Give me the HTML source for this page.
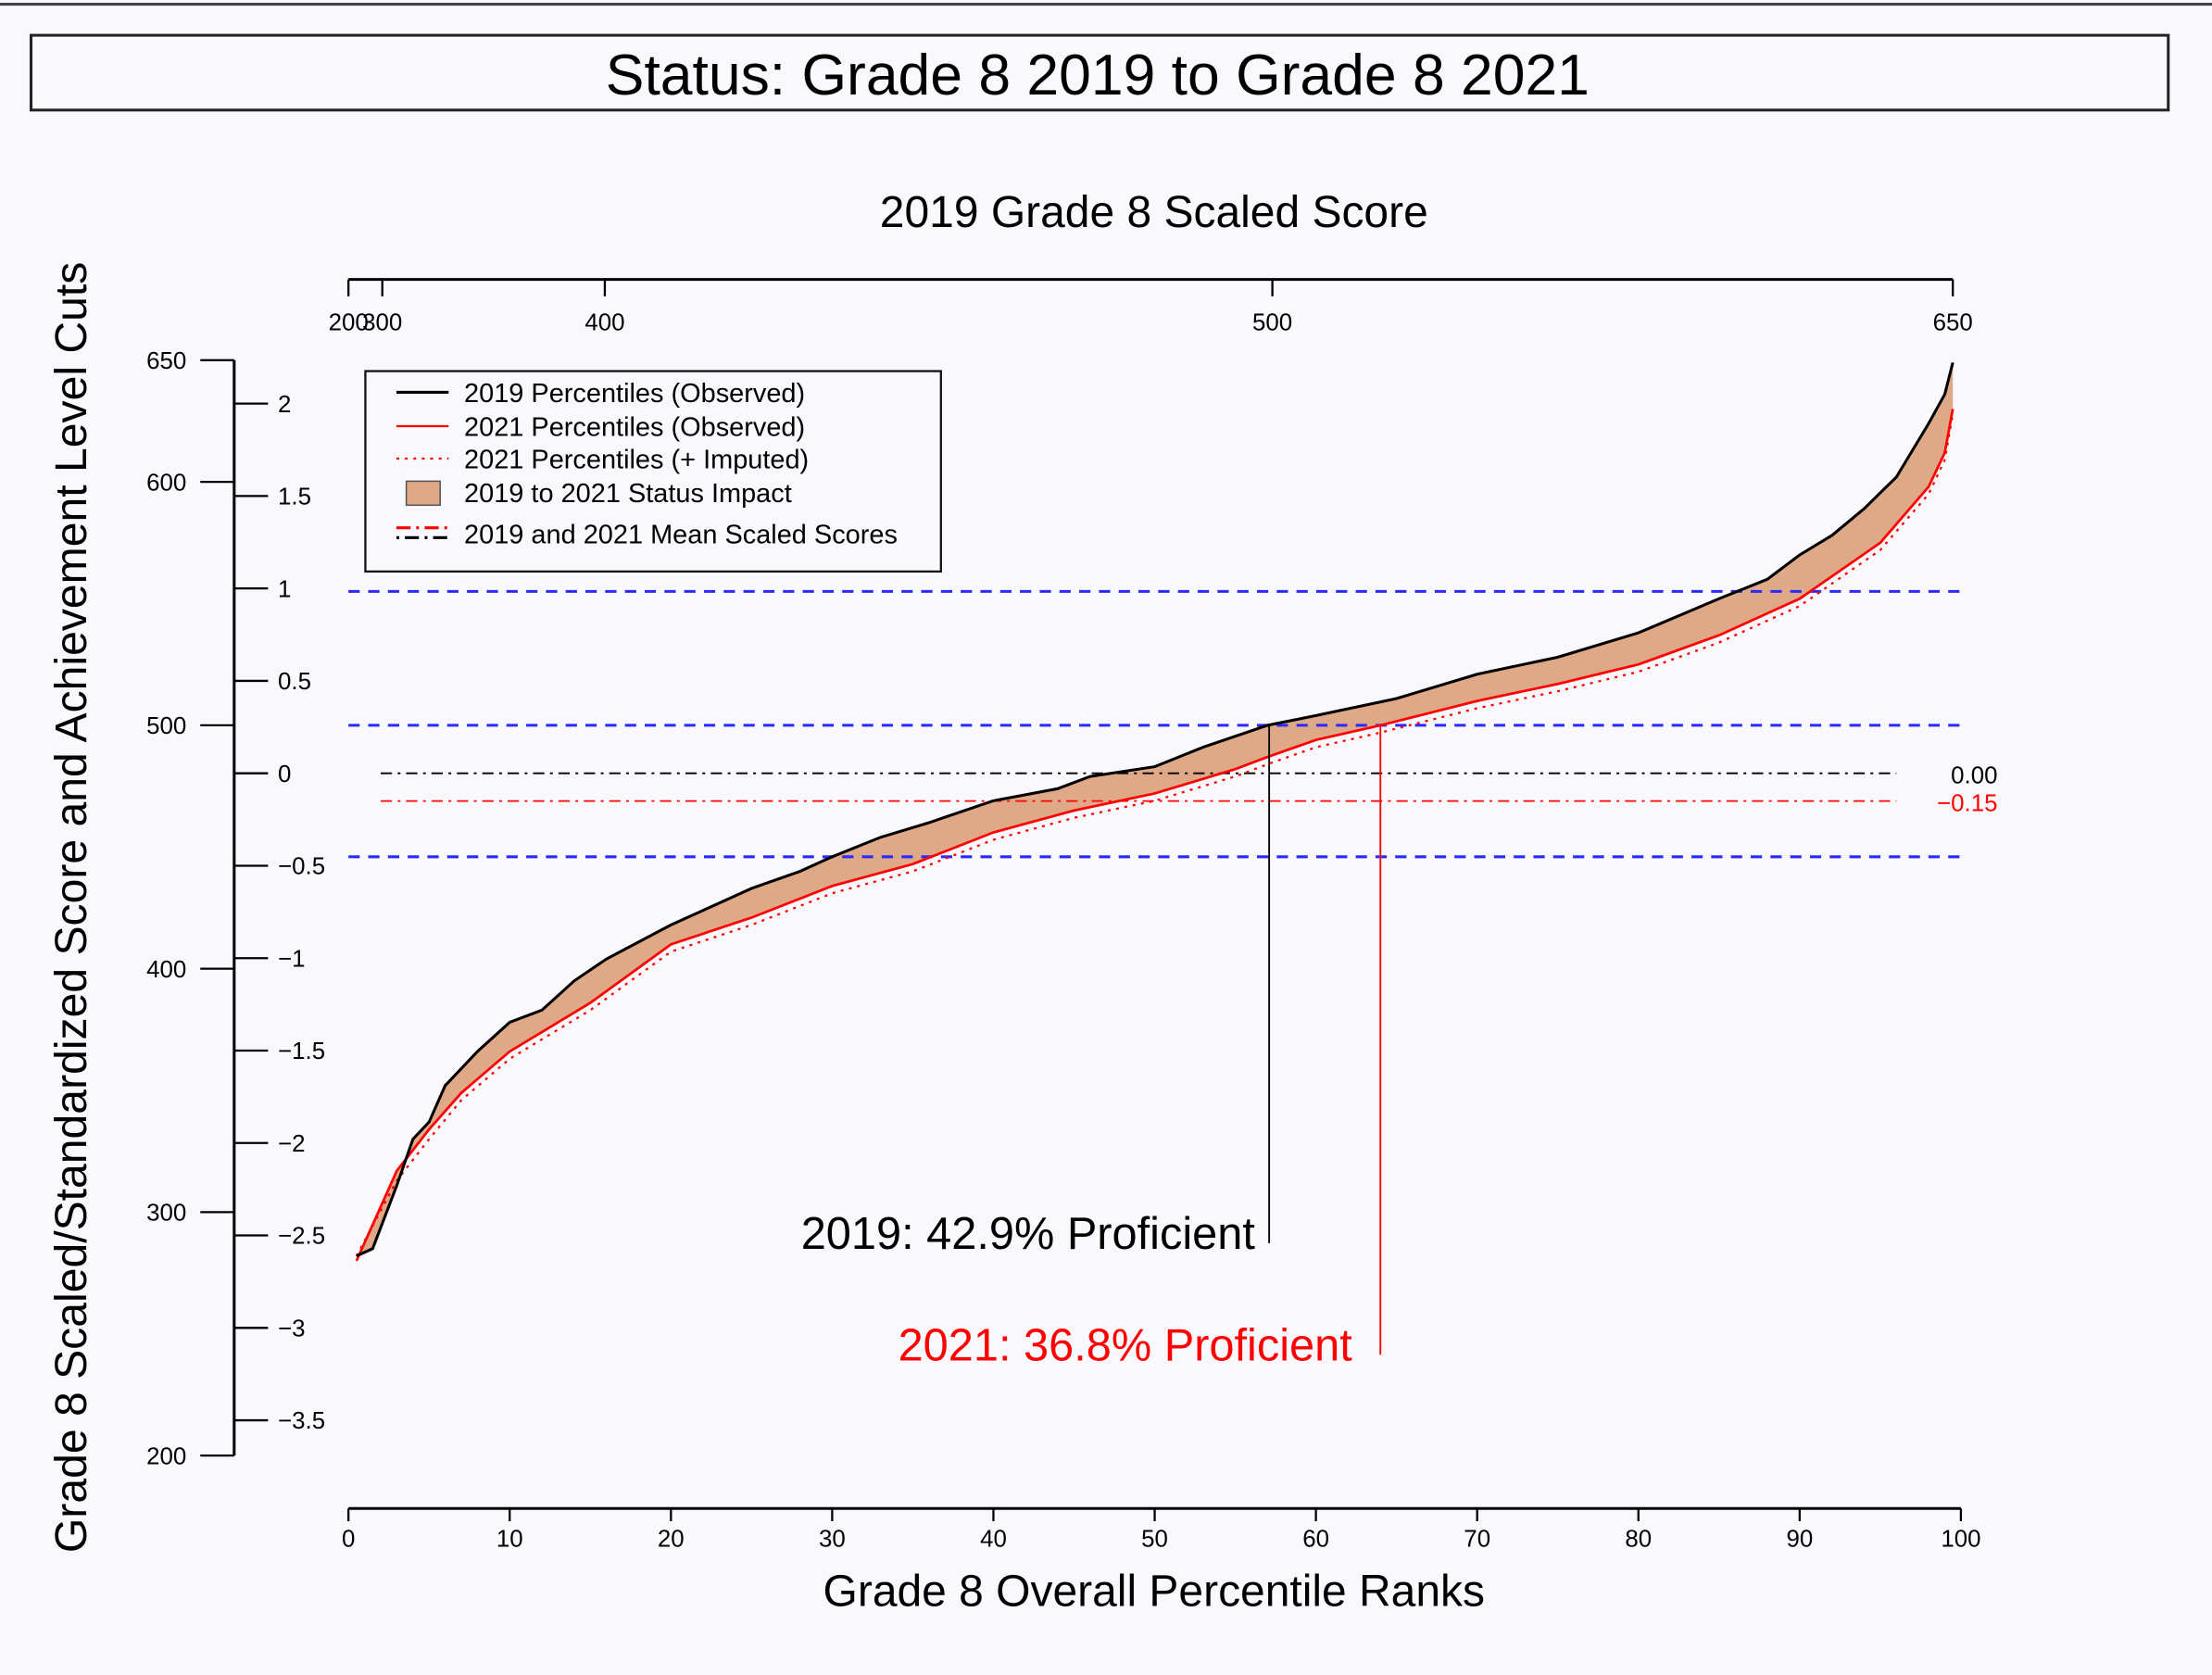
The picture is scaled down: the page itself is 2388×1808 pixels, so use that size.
<!DOCTYPE html>
<html><head><meta charset="utf-8"><style>
html,body{margin:0;padding:0;background:#f9f9fd;}
svg{display:block;font-family:"Liberation Sans",Arial,sans-serif;}
</style></head><body>
<svg id="chart" width="2388" height="1808" viewBox="0 0 1568 1187" preserveAspectRatio="none" xmlns="http://www.w3.org/2000/svg">
<rect x="0" y="0" width="1568" height="1187" fill="#f9f9fd"/>
<line x1="0" y1="3" x2="1568" y2="3" stroke="#444" stroke-width="2"/>
<rect x="22" y="25" width="1515" height="53" fill="none" stroke="#222" stroke-width="2"/>
<text x="778" y="67" font-size="41" text-anchor="middle">Status: Grade 8 2019 to Grade 8 2021</text>
<text x="818" y="161" font-size="31.5" text-anchor="middle">2019 Grade 8 Scaled Score</text>
<text x="818" y="1138" font-size="31.5" text-anchor="middle">Grade 8 Overall Percentile Ranks</text>
<text transform="translate(61,643) rotate(-90)" font-size="31.6" text-anchor="middle">Grade 8 Scaled/Standardized Score and Achievement Level Cuts</text>
<g id="axes"></g>
<g id="marks"></g>
<g>
<rect x="259" y="263" width="408" height="142" fill="#f9f9fd" stroke="#111" stroke-width="1.5"/>
<line x1="281" y1="278" x2="318" y2="278" stroke="#000" stroke-width="2"/>
<text x="329" y="285" font-size="19">2019 Percentiles (Observed)</text>
<line x1="281" y1="302" x2="318" y2="302" stroke="#f00" stroke-width="1.5"/>
<text x="329" y="309" font-size="19">2021 Percentiles (Observed)</text>
<line x1="281" y1="325" x2="318" y2="325" stroke="#f00" stroke-width="1.5" stroke-dasharray="2,4"/>
<text x="329" y="332" font-size="19">2021 Percentiles (+ Imputed)</text>
<rect x="288" y="341" width="24" height="17" fill="#dfa988" stroke="#555" stroke-width="1"/>
<text x="329" y="356" font-size="19">2019 to 2021 Status Impact</text>
<line x1="281" y1="374" x2="318" y2="374" stroke="#f00" stroke-width="2" stroke-dasharray="10,4,2,4"/>
<line x1="281" y1="381" x2="318" y2="381" stroke="#000" stroke-width="2" stroke-dasharray="2,4,10,4"/>
<text x="329" y="385" font-size="19">2019 and 2021 Mean Scaled Scores</text>
</g>
</svg>
<script>
const pct2019=[0.5,1.5,3,4,5,6,8,10,12,14,16,18,20,22,25,28,30,33,36,40,44,46,50,53,57,60,65,70,75,80,85,88,90,92,94,96,98,99,99.5];
const score2019=[282,285,311,330,337,352,366,378,383,395,404,411,418,424,433,440,446,454,460,469,474,479,483,491,500,504,511,521,528,538,552,560,570,578,589,602,624,636,649];
const pct2021=[0.5,3,5,7,10,15,20,25,30,35,40,45,50,55,57,60,64,70,75,80,85,90,95,98,99,99.5];
const score2021=[280,317,334,349,366,386,410,421,434,443,456,465,472,482,487,494,500,510,517,525,537,552,575,598,612,630];
const scoreImputed=[282,313,330,346,363,383,407,418,431,440,453,462,469,479,484,491,497,507,514,522,534,549,572,595,609,628];
const cutScores=[446,500,555];
const mean2019=0.00, mean2021=-0.15;
const prof2019=42.9, prof2021=36.8;
const xTicks=[0,10,20,30,40,50,60,70,80,90,100];
const yTicks=[200,300,400,500,600,650];
const zTicks=[-3.5,-3,-2.5,-2,-1.5,-1,-0.5,0,0.5,1,1.5,2];
const zLabels=["\u22123.5","\u22123","\u22122.5","\u22122","\u22121.5","\u22121","\u22120.5","0","0.5","1","1.5","2"];
const topTickScores=[200,300,400,500,650];
const topTickPct=[0,2.1,15.9,57.3,99.5];

const X=p=>247+p*11.43;
const Y=s=>514-(s-500)*1.725;
const Z=z=>548-z*131;
const NS="http://www.w3.org/2000/svg";
const axes=document.getElementById('axes'), marks=document.getElementById('marks');
function mk(tag,attrs,parent,txt){const e=document.createElementNS(NS,tag);for(const k in attrs)e.setAttribute(k,attrs[k]);if(txt!==undefined)e.textContent=txt;parent.appendChild(e);return e;}

let e=mk('line',{x1:X(0),y1:1069,x2:X(100),y2:1069,stroke:'#000','stroke-width':2},axes);


xTicks.forEach(t=>{
 let l=mk('line',{x1:X(t),y1:1069,x2:X(t),y2:1078,stroke:'#000','stroke-width':1.5},axes);
 
 
 let tx=mk('text',{x:X(t),y:1096,'font-size':17,'text-anchor':'middle'},axes,String(t));
 
 
});
e=mk('line',{x1:X(0),y1:198,x2:X(topTickPct[4]),y2:198,stroke:'#000','stroke-width':2},axes);


topTickScores.forEach((s,i)=>{
 let l=mk('line',{x1:X(topTickPct[i]),y1:198,x2:X(topTickPct[i]),y2:210,stroke:'#000','stroke-width':1.5},axes);
 
 
 let tx=mk('text',{x:X(topTickPct[i]),y:234,'font-size':17,'text-anchor':'middle'},axes,String(s));
 
 
});
e=mk('line',{x1:166,y1:Y(650),x2:166,y2:Y(200),stroke:'#000','stroke-width':2},axes);


yTicks.forEach(t=>{
 let l=mk('line',{x1:142,y1:Y(t),x2:166,y2:Y(t),stroke:'#000','stroke-width':1.5},axes);
 
 
 let tx=mk('text',{x:118,y:Y(t)+6,'font-size':17,'text-anchor':'middle'},axes,String(t));
 
 
});
zTicks.forEach((z,i)=>{
 let l=mk('line',{x1:166,y1:Z(z),x2:190,y2:Z(z),stroke:'#000','stroke-width':1.5},axes);
 
 
 let tx=mk('text',{x:197,y:Z(z)+6,'font-size':17},axes,zLabels[i]);
 
 
});
const poly=pct2019.map((p,i)=>X(p)+','+Y(score2019[i])).concat(pct2021.slice().reverse().map((p,j)=>{const i=pct2021.length-1-j;return X(p)+','+Y(score2021[i]);})).join(' ');
e=mk('polygon',{points:poly,fill:'#dfa988',stroke:'none'},marks);


cutScores.forEach(s=>{
 let l=mk('line',{x1:X(0),y1:Y(s),x2:X(100),y2:Y(s),stroke:'#2a2aff','stroke-width':2,'stroke-dasharray':'8,6'},marks);
 
 
});
e=mk('line',{x1:X(2),y1:Z(mean2019),x2:X(96),y2:Z(mean2019),stroke:'#000','stroke-width':1.2,'stroke-dasharray':'8,4,2,4'},marks);


e=mk('line',{x1:X(2),y1:Z(mean2021),x2:X(96),y2:Z(mean2021),stroke:'#f00','stroke-width':1.2,'stroke-dasharray':'8,4,2,4'},marks);


e=mk('text',{x:1416,y:Z(mean2019)+7,'font-size':17,'text-anchor':'end'},marks,mean2019.toFixed(2));


e=mk('text',{x:1416,y:Z(mean2021)+7,'font-size':17,'text-anchor':'end',fill:'#f00'},marks,'\u2212'+Math.abs(mean2021).toFixed(2));


const path=(ps,ss)=>ps.map((p,i)=>(i?'L':'M')+X(p)+','+Y(ss[i])).join(' ');
e=mk('path',{d:path(pct2021,scoreImputed),fill:'none',stroke:'#f00','stroke-width':1.5,'stroke-dasharray':'2,4'},marks);


e=mk('path',{d:path(pct2021,score2021),fill:'none',stroke:'#f00','stroke-width':1.8},marks);


e=mk('path',{d:path(pct2019,score2019),fill:'none',stroke:'#000','stroke-width':2},marks);


const p19=100-prof2019, p21=100-prof2021+0.8;
e=mk('line',{x1:X(p19),y1:Y(500),x2:X(p19),y2:881,stroke:'#000','stroke-width':1.2},marks);


e=mk('line',{x1:X(p21),y1:Y(500),x2:X(p21),y2:960,stroke:'#f00','stroke-width':1.2},marks);


e=mk('text',{x:X(p19)-10,y:885,'font-size':32,'text-anchor':'end'},marks,'2019: '+prof2019+'% Proficient');


e=mk('text',{x:X(p21)-20,y:964,'font-size':32,'text-anchor':'end',fill:'#f00'},marks,'2021: '+prof2021+'% Proficient');


</script>
</body></html>
